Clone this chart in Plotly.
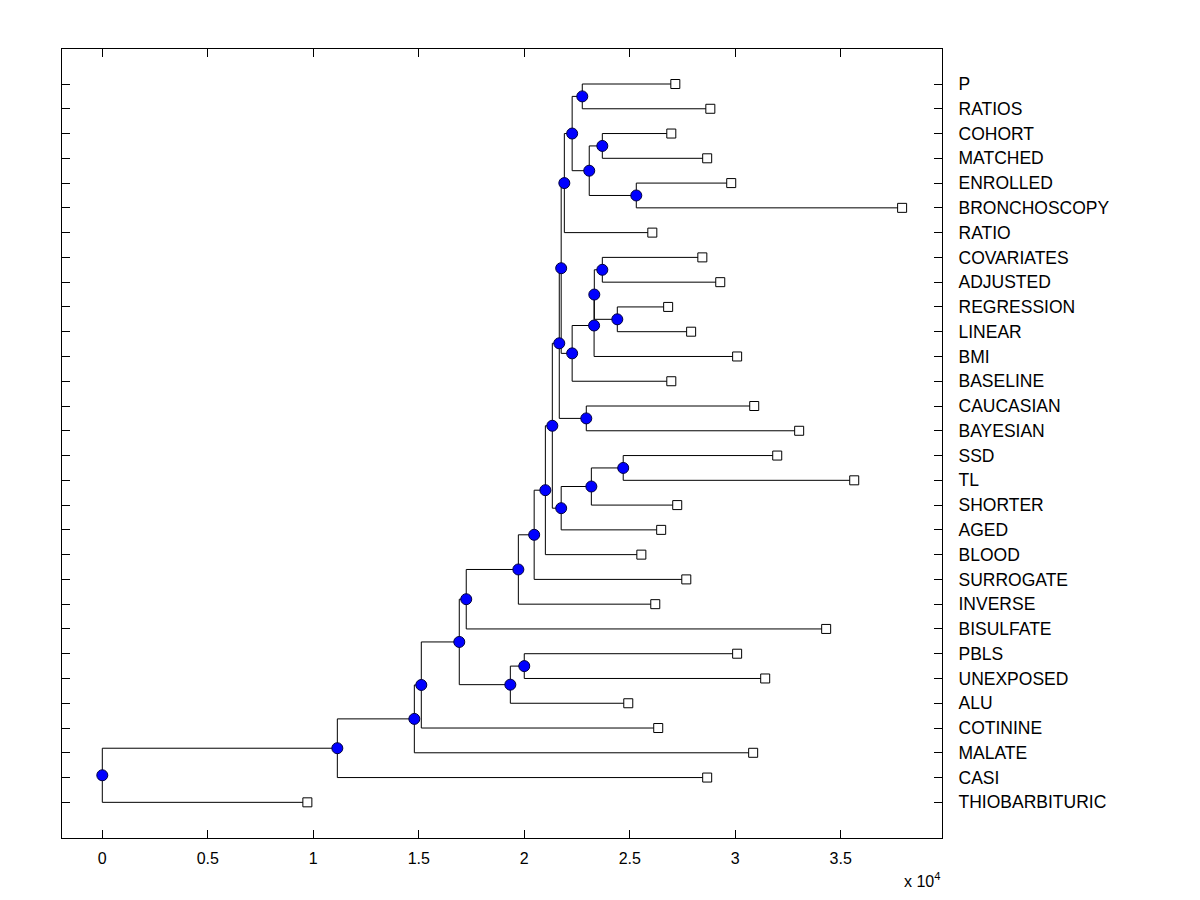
"""Phylogenetic-style tree of terms, drawn with plotly."""
import plotly.graph_objects as go

# leaves, top to bottom, with their distance from the root
leaf_names = ['P', 'RATIOS', 'COHORT', 'MATCHED', 'ENROLLED', 'BRONCHOSCOPY',
              'RATIO', 'COVARIATES', 'ADJUSTED', 'REGRESSION', 'LINEAR', 'BMI',
              'BASELINE', 'CAUCASIAN', 'BAYESIAN', 'SSD', 'TL', 'SHORTER', 'AGED',
              'BLOOD', 'SURROGATE', 'INVERSE', 'BISULFATE', 'PBLS', 'UNEXPOSED',
              'ALU', 'COTININE', 'MALATE', 'CASI', 'THIOBARBITURIC']
leaf_dist = [27160, 28820, 26970, 28670, 29810, 37910,
             26070, 28440, 29290, 26820, 27910, 30090,
             26970, 30900, 33030, 31990, 35640, 27250, 26490,
             25550, 27680, 26210, 34310, 30090, 31420,
             24930, 26350, 30850, 28670, 9720]

# branch nodes: children (index into leaves 0-29, then nodes 30+) and distance
node_left = [0, 2, 4, 31, 30, 34, 7, 9, 36, 38, 39, 35, 13, 41, 15,
             44, 45, 43, 47, 48, 49, 50, 23, 52, 51, 54, 55, 56, 57]
node_right = [1, 3, 5, 32, 33, 6, 8, 10, 37, 11, 12, 40, 14, 42, 16,
              17, 18, 46, 19, 20, 21, 22, 24, 25, 53, 26, 27, 28, 29]
node_dist = [22750, 23700, 25310, 23080, 22270, 21900, 23700, 24410, 23320,
             23310, 22270, 21750, 22940, 21660, 24690, 23180, 21750, 21330,
             21000, 20470, 19720, 17250, 20000, 19340, 16920, 15120, 14790,
             11140, 0]

x_tick_vals = [0, 5000, 10000, 15000, 20000, 25000, 30000, 35000]
x_tick_text = ['0', '0.5', '1', '1.5', '2', '2.5', '3', '3.5']

n_leaf = len(leaf_names)
xs = list(leaf_dist) + list(node_dist)
ys = [i + 1 for i in range(n_leaf)]
for a, b in zip(node_left, node_right):
    ys.append((ys[a] + ys[b]) / 2)

lx, ly = [], []
for k, (a, b) in enumerate(zip(node_left, node_right)):
    p = n_leaf + k
    lx += [xs[a], xs[p], xs[p], xs[b], None]
    ly += [ys[a], ys[a], ys[b], ys[b], None]

fig = go.Figure()
fig.add_trace(go.Scatter(x=lx, y=ly, mode='lines',
                         line=dict(color='black', width=1),
                         hoverinfo='skip'))
fig.add_trace(go.Scatter(x=xs[:n_leaf], y=ys[:n_leaf], mode='markers',
                         marker=dict(symbol='square', size=9, color='white',
                                     line=dict(color='black', width=1)),
                         text=leaf_names))
fig.add_trace(go.Scatter(x=xs[n_leaf:], y=ys[n_leaf:], mode='markers',
                         marker=dict(symbol='circle', size=11, color='#0000ff',
                                     line=dict(color='#000040', width=1))))

# page body adds 8px, so the figure is 1184x884 with margins shifted
font = 'Arial, Liberation Sans, sans-serif'
fig.update_layout(
    width=1184, height=884,
    showlegend=False,
    plot_bgcolor='white', paper_bgcolor='white',
    margin=dict(l=54, r=250, t=41, b=54),
    font=dict(family=font, color='black'),
    xaxis=dict(range=[-1910, 39800], tickvals=x_tick_vals,
               ticktext=x_tick_text, ticks='inside', ticklen=8,
               tickcolor='black', mirror='ticks', showline=True,
               linecolor='black', linewidth=1, showgrid=False,
               zeroline=False, tickfont=dict(size=16),
               ticklabelstandoff=6),
    yaxis=dict(range=[31.44, -0.413], side='right',
               tickvals=list(range(1, n_leaf + 1)), ticktext=leaf_names,
               ticks='inside', ticklen=8, tickcolor='black', mirror='ticks',
               showline=True, linecolor='black', linewidth=1,
               showgrid=False, zeroline=False, tickfont=dict(size=17.5),
               ticklabelstandoff=12),
)
fig.add_annotation(text='x 10<sup>4</sup>', xref='paper', yref='paper',
                   x=(903 - 62) / 880, y=-0.067, xanchor='left',
                   yanchor='bottom', borderpad=0, showarrow=False,
                   font=dict(size=16, color='black'))

fig.write_html("out.html")
